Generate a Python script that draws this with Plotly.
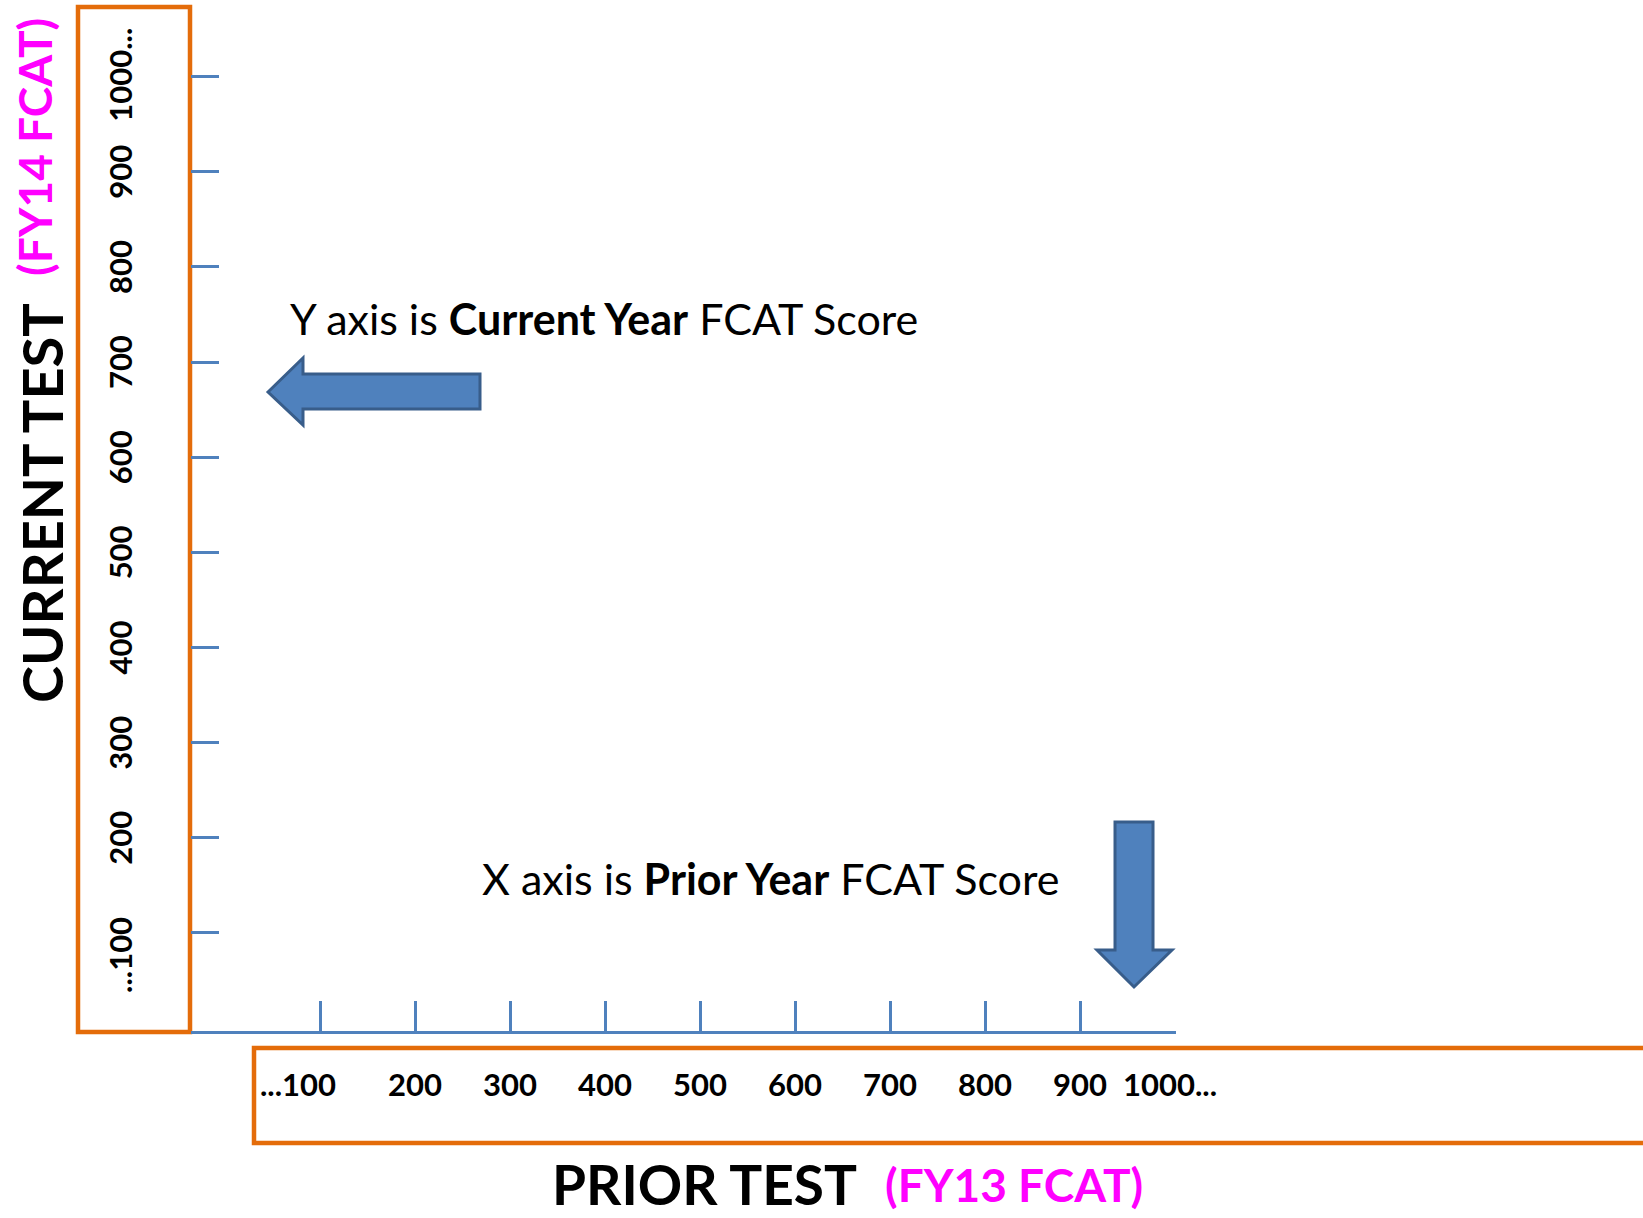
import plotly.graph_objects as go

# ---------------- data ----------------
x_tick_values = [100, 200, 300, 400, 500, 600, 700, 800, 900, 1000]
x_tick_labels = ["...100", "200", "300", "400", "500", "600", "700", "800", "900", "1000..."]
y_tick_values = [100, 200, 300, 400, 500, 600, 700, 800, 900, 1000]
y_tick_labels = ["...100", "200", "300", "400", "500", "600", "700", "800", "900", "1000..."]

x_title = "PRIOR TEST"
x_title_note = "(FY13 FCAT)"
y_title = "CURRENT TEST"
y_title_note = "(FY14 FCAT)"
y_caption = "Y axis is <b>Current Year</b> FCAT Score"
x_caption = "X axis is <b>Prior Year</b> FCAT Score"

# ---------------- layout helpers ----------------
W, H = 1643, 1218
BLUE = "#4F81BD"
BLUE_DARK = "#385D8A"
ORANGE = "#E46C0A"
MAGENTA = "#FF00FF"
FONT = "Lato"


def px(x):
    return x / W


def py(y):
    return 1 - y / H


# score -> pixel scale (x): px = 747.6 + 0.9502*(s-550)
XS, XC, XP = 0.9502, 550, 747.6
x_left_px = 191
x_range = [XC + (x_left_px - XP) / XS, 1001]
x_right_px = XP + XS * (x_range[1] - XC)
# score -> pixel scale (y): py = 504.8 - 0.9514*(s-550)
YS, YC, YP = 0.9514, 550, 504.8
y_bottom_px = 1031
y_range = [YC - (y_bottom_px - YP) / YS, YC + YP / YS]

fig = go.Figure()
fig.add_trace(go.Scatter(x=[x_tick_values[0]], y=[y_tick_values[0]], mode="markers",
                         marker=dict(opacity=0), hoverinfo="skip", showlegend=False))

fig.update_layout(
    width=W, height=H, autosize=False,
    margin=dict(l=0, r=0, t=0, b=0, pad=0),
    paper_bgcolor="white", plot_bgcolor="rgba(0,0,0,0)",
    showlegend=False,
    xaxis=dict(domain=[px(x_left_px), px(x_right_px)], range=x_range,
               showgrid=False, zeroline=False, showline=True, linecolor=BLUE, linewidth=3,
               ticks="inside", ticklen=30, tickwidth=2.5, tickcolor=BLUE,
               tickmode="array", tickvals=x_tick_values, showticklabels=False,
               fixedrange=True),
    yaxis=dict(domain=[py(y_bottom_px), 1], range=y_range,
               showgrid=False, zeroline=False, showline=False,
               ticks="inside", ticklen=28, tickwidth=2.5, tickcolor=BLUE,
               tickmode="array", tickvals=y_tick_values, showticklabels=False,
               fixedrange=True),
)

shapes = []
# orange boxes
shapes.append(dict(type="rect", xref="paper", yref="paper",
                   x0=px(78), x1=px(190), y0=py(7), y1=py(1032),
                   line=dict(color=ORANGE, width=4.5), layer="below"))
shapes.append(dict(type="rect", xref="paper", yref="paper",
                   x0=px(254), x1=px(1660), y0=py(1048), y1=py(1143),
                   line=dict(color=ORANGE, width=4.5), layer="below"))


def path(points):
    s = "M " + " L ".join(f"{px(a):.5f},{py(b):.5f}" for a, b in points) + " Z"
    return s


# left arrow
left_arrow = [(268, 392), (303, 358), (303, 374), (480, 374), (480, 409), (303, 409), (303, 425)]
shapes.append(dict(type="path", xref="paper", yref="paper", path=path(left_arrow),
                   fillcolor=BLUE, line=dict(color=BLUE_DARK, width=3)))
# down arrow
down_arrow = [(1115, 822), (1153, 822), (1153, 950), (1172, 950), (1134, 987), (1097, 950), (1115, 950)]
shapes.append(dict(type="path", xref="paper", yref="paper", path=path(down_arrow),
                   fillcolor=BLUE, line=dict(color=BLUE_DARK, width=3)))
fig.update_layout(shapes=shapes)

ann = []
tick_font = dict(family=FONT, size=31, color="black")
for v, lab in zip(x_tick_values, x_tick_labels):
    a = dict(x=v, xref="x", y=py(1084), yref="paper", text=f"<b>{lab}</b>", showarrow=False,
             font=tick_font, xanchor="center", yanchor="middle")
    if lab.startswith("..."):
        a.update(xanchor="right", xshift=18)
    elif lab.endswith("..."):
        a.update(xanchor="left", xshift=-54)
    ann.append(a)

for v, lab in zip(y_tick_values, y_tick_labels):
    a = dict(x=px(120), xref="paper", y=v, yref="y", text=f"<b>{lab}</b>", showarrow=False,
             font=tick_font, textangle=-90, xanchor="center", yanchor="middle")
    if lab.startswith("..."):
        a.update(yanchor="top", yshift=18)
    elif lab.endswith("..."):
        a.update(yanchor="bottom", yshift=-47)
    ann.append(a)


def label(xp, yp, text, size, color, angle=0):
    return dict(x=px(xp), y=py(yp), xref="paper", yref="paper", text=text, showarrow=False,
                textangle=angle, xanchor="center", yanchor="middle",
                font=dict(family=FONT, size=size, color=color))


# titles
ann.append(label(41, 503, f"<b>{y_title}</b>", 56, "black", -90))
ann.append(label(34, 147, f"<b>{y_title_note}</b>", 46, MAGENTA, -90))
ann.append(label(704, 1184, f"<b>{x_title}</b>", 55, "black"))
ann.append(label(1014, 1184, f"<b>{x_title_note}</b>", 46, MAGENTA))
# captions
ann.append(label(604, 318, y_caption, 43, "black"))
ann.append(label(770, 879, x_caption, 43, "black"))
fig.update_layout(annotations=ann)

fig.write_html("out.html", config={"displayModeBar": False},
               post_script="document.body.style.margin='0';document.body.style.overflow='hidden';")
